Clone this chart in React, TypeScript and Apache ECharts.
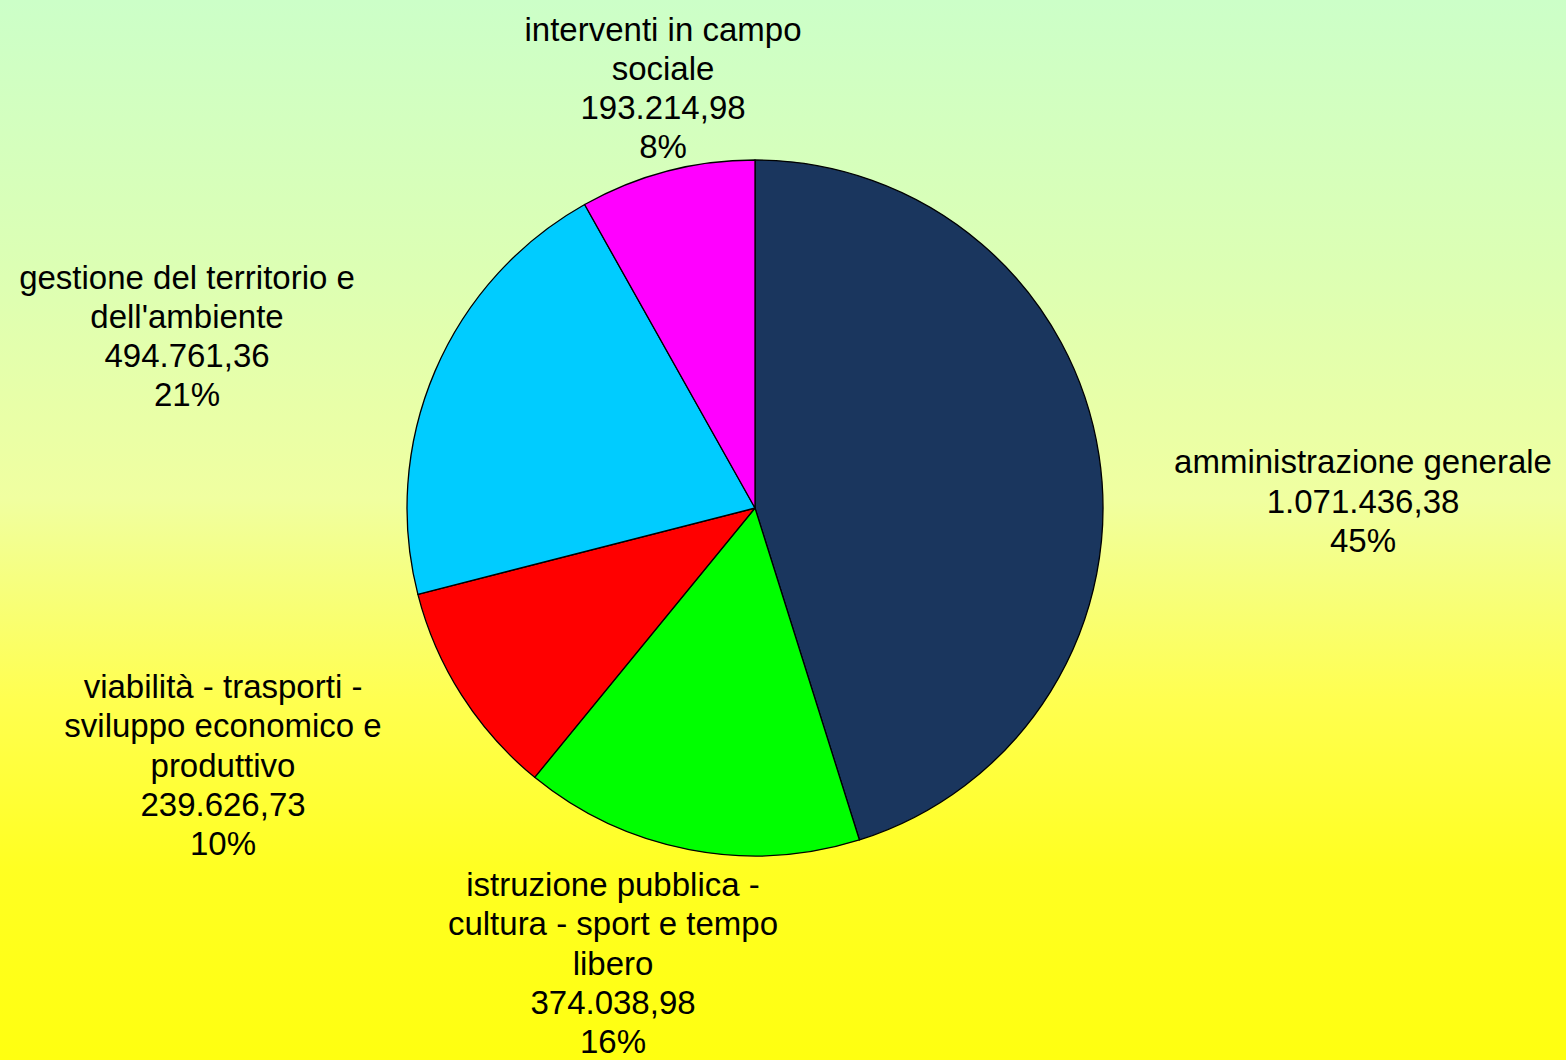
import React, { useEffect, useRef } from "react";
import * as echarts from "echarts";

const categories = [
  "amministrazione generale",
  "istruzione pubblica -\ncultura - sport e tempo\nlibero",
  "viabilità - trasporti -\nsviluppo economico e\nproduttivo",
  "gestione del territorio e\ndell'ambiente",
  "interventi in campo\nsociale",
];
const values = [1071436.38, 374038.98, 239626.73, 494761.36, 193214.98];
const colors = ["#1a365e", "#00ff00", "#ff0000", "#00ccff", "#ff00ff"];

// label centre positions (layout only)
const labelPos = [
  [1363, 501],
  [613, 963],
  [223, 765],
  [187, 336],
  [663, 88],
];

function fmt(v: number): string {
  const [i, d] = v.toFixed(2).split(".");
  return i.replace(/\B(?=(\d{3})+(?!\d))/g, ".") + "," + d;
}

export default function App() {
  const ref = useRef<HTMLDivElement>(null);
  useEffect(() => {
    if (!ref.current) return;
    const chart = echarts.init(ref.current, null, { renderer: "svg" });
    chart.setOption({
      animation: false,
      series: [
        {
          type: "pie",
          center: [755, 508],
          radius: 348,
          startAngle: 90,
          clockwise: true,
          percentPrecision: 0,
          avoidLabelOverlap: false,
          data: categories.map((c, i) => ({
            name: c,
            value: values[i],
            itemStyle: { color: colors[i] },
          })),
          itemStyle: { borderColor: "#000", borderWidth: 1.3 },
          label: {
            show: true,
            position: "outside",
            formatter: (p: any) => `${p.name}\n${fmt(p.value)}\n${p.percent}%`,
            fontFamily: "Liberation Sans, Arial, sans-serif",
            fontSize: 33,
            lineHeight: 39.3,
            color: "#000",
            align: "center",
          },
          labelLine: { show: false },
          labelLayout: (p: any) => ({
            x: labelPos[p.dataIndex][0],
            y: labelPos[p.dataIndex][1],
            align: "center",
            verticalAlign: "middle",
            hideOverlap: false,
          }),
          emphasis: { disabled: true },
        },
      ],
    });
    return () => chart.dispose();
  }, []);
  return (
    <div
      ref={ref}
      style={{
        position: "absolute",
        left: 0,
        top: 0,
        width: 1566,
        height: 1060,
        background:
          "linear-gradient(to bottom, #ccffc8 0%, #dcffb4 25%, #f0ffa0 47%, #ffff50 66%, #ffff22 82%, #ffff10 100%)",
      }}
    />
  );
}
